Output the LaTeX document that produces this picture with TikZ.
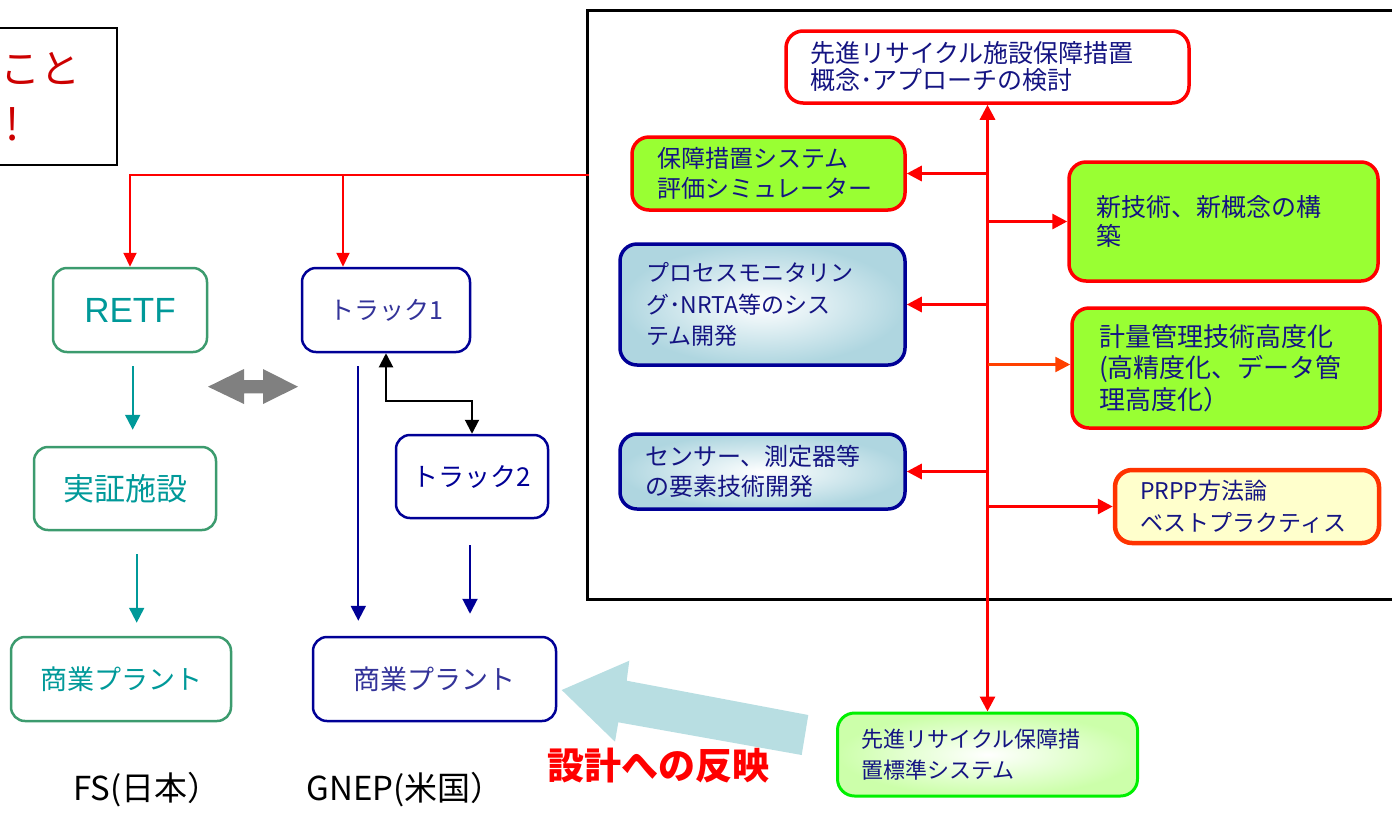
\documentclass[tikz,border=0pt]{standalone}
\usepackage{fontspec}
\setmainfont{Noto Sans CJK JP}
\newfontfamily\arialf{Liberation Sans}
\usetikzlibrary{arrows.meta}
\definecolor{boxgreen}{RGB}{60,155,110}
\definecolor{tealtxt}{RGB}{0,153,153}
\definecolor{navyb}{RGB}{0,0,150}
\definecolor{trktxt}{RGB}{51,51,153}
\definecolor{pnavy}{RGB}{20,20,130}
\definecolor{lime}{RGB}{153,255,51}
\definecolor{pred}{RGB}{255,0,0}
\definecolor{porange}{RGB}{255,64,0}
\definecolor{prppb}{RGB}{255,51,0}
\definecolor{prppf}{RGB}{255,255,204}
\definecolor{bgrad}{RGB}{175,214,224}
\definecolor{ggrad}{RGB}{204,255,170}
\definecolor{lgreen}{RGB}{0,240,0}
\definecolor{lblue}{RGB}{184,222,226}
\definecolor{dred}{RGB}{204,0,0}
\definecolor{gry}{RGB}{128,128,128}
\begin{document}
\begin{tikzpicture}[x=1pt,y=-1pt,
  lbox/.style={draw, rounded corners=14pt, line width=2.5pt, inner sep=0pt, align=center},
  gbox/.style={lbox, draw=boxgreen, text=tealtxt},
  nbox/.style={lbox, draw=navyb, text=trktxt},
  pbox/.style={draw, rounded corners=17pt, line width=3.5pt, inner ysep=0pt, align=left, text=pnavy},
  redbox/.style={pbox, draw=pred, fill=lime},
  bluebox/.style={pbox, draw=navyb, inner color=white, outer color=bgrad},
  rthin/.style={draw=pred, line width=2pt, -{Triangle[length=14pt,width=13pt]}},
  tealarr/.style={draw=tealtxt, line width=2pt, -{Triangle[length=15pt,width=15pt]}},
  navyarr/.style={draw=navyb, line width=2pt, -{Triangle[length=15pt,width=15pt]}},
  blkarr/.style={draw=black, line width=2pt, {Triangle[length=14pt,width=14pt]}-{Triangle[length=14pt,width=14pt]}},
  pthick/.style={draw=pred, line width=3pt, -{Triangle[length=15pt,width=15pt]}},
  oarr/.style={draw=porange, line width=2.5pt, -{Triangle[length=15pt,width=15pt]}}
]
\useasboundingbox (0,0) rectangle (1392,815);

% top-left note box (cut off)
\node[draw, line width=2pt, minimum width=132, minimum height=137, anchor=north east, inner sep=0pt] (note) at (118,27) {};
\node[anchor=west, inner sep=0pt, text=dred, font=\fontsize{40}{40}\selectfont] (koto) at (0,68) {こと};
\node[inner sep=0pt, text=dred, font=\fontsize{44}{44}\selectfont] (excl) at (13,124) {!};

% big panel
\node[draw, line width=2.5pt, anchor=north west, minimum width=830, minimum height=589, inner sep=0pt] (panel) at (586,9) {};

% left column boxes
\node[gbox, minimum width=154, minimum height=84, font=\arialf\fontsize{35}{35}\selectfont] (retf) at (130,310) {RETF};
\node[gbox, minimum width=182, minimum height=83, font=\fontsize{31}{31}\selectfont] (jissho) at (125,488.5) {実証施設};
\node[gbox, minimum width=220, minimum height=84, font=\fontsize{27}{27}\selectfont] (plantL) at (121,679) {商業プラント};
\node[nbox, minimum width=168, minimum height=84, font=\fontsize{25}{25}\selectfont] (trk1) at (386,310) {トラック1};
\node[nbox, text=navyb, minimum width=152, minimum height=83, font=\fontsize{26}{26}\selectfont] (trk2) at (472,476.5) {トラック2};
\node[nbox, minimum width=243, minimum height=84, font=\fontsize{27}{27}\selectfont] (plantR) at (434.5,679) {商業プラント};

% panel boxes
\node[pbox, draw=pred, fill=white, minimum height=72, text width=355, inner xsep=24pt, font=\fontsize{25}{27}\selectfont] (tb) at (987.5,67) {先進リサイクル施設保障措置\\概念･アプローチの検討};
\node[redbox, minimum height=73, text width=223, inner xsep=25pt, font=\fontsize{24}{30}\selectfont] (sim) at (768.5,173.5) {保障措置システム\\評価シミュレーター};
\node[bluebox, minimum height=121, text width=233, inner xsep=26pt, font=\fontsize{23}{31.5}\selectfont] (proc) at (762.5,304.5) {プロセスモニタリン\\グ･NRTA等のシス\\テム開発};
\node[bluebox, minimum height=75, text width=235, inner xsep=25pt, font=\fontsize{24}{29.5}\selectfont] (sensor) at (762.5,471.5) {センサー、測定器等\\の要素技術開発};
\node[redbox, minimum height=119, text width=255, inner xsep=27pt, font=\fontsize{25}{29}\selectfont] (newtech) at (1223.5,221.5) {新技術、新概念の構\\築};
\node[redbox, minimum height=120, text width=254, inner xsep=27pt, font=\fontsize{26}{31.7}\selectfont] (keiryo) at (1226,368) {計量管理技術高度化\\(高精度化、データ管\\理高度化）};
\node[pbox, draw=prppb, fill=prppf, line width=4.5pt, minimum height=73, text width=214, inner xsep=25pt, font=\fontsize{23}{31.6}\selectfont] (prpp) at (1247,506.5) {PRPP方法論\\ベストプラクティス};
\node[pbox, draw=lgreen, line width=3pt, inner color=white, outer color=ggrad, minimum height=83, text width=252, inner xsep=24pt, font=\fontsize{22}{31}\selectfont] (bot) at (987.5,754.5) {先進リサイクル保障措\\置標準システム};

% left connectors
\coordinate (jr) at (589,175);
\coordinate (j1) at (343,175);
\draw[rthin] (jr) -| (retf.north);
\draw[rthin] (j1) -- (j1 |- trk1.north);
\draw[tealarr, shorten <=13pt, shorten >=16pt] ([xshift=2.7pt]retf.south) -- ([xshift=2.7pt]retf.south |- jissho.north);
\draw[tealarr, shorten <=23pt, shorten >=13pt] ([xshift=11.7pt]jissho.south) -- ([xshift=11.7pt]jissho.south |- plantL.north);
\draw[navyarr, shorten <=13pt, shorten >=15pt] ([xshift=-27.7pt]trk1.south) -- ([xshift=-27.7pt]trk1.south |- plantR.north);
\draw[navyarr, shorten <=26pt, shorten >=22pt] ([xshift=-2pt]trk2.south) -- ([xshift=-2pt]trk2.south |- plantR.north);
\draw[blkarr] (trk1.south) -- ++(0,48) -| (trk2.north);

% grey double arrow
\fill[gry] (208,386.7) -- (244,369) -- (244,380) -- (263,380) -- (263,369) -- (298,386.7) -- (263,404) -- (263,393.3) -- (244,393.3) -- (244,404) -- cycle;

% panel connectors
\draw[pthick, {Triangle[length=15pt,width=15pt]}-{Triangle[length=15pt,width=15pt]}] (tb.south) -- (bot.north);
\draw[pthick] (tb.south |- sim.east) -- (sim.east);
\draw[pthick] (tb.south |- proc.east) -- (proc.east);
\draw[pthick] (tb.south |- sensor.east) -- (sensor.east);
\draw[pthick] (tb.south |- newtech.west) -- (newtech.west);
\coordinate (ko) at ([yshift=3.5pt]keiryo.west);
\draw[oarr] (tb.south |- ko) -- (ko);
\draw[pthick] (tb.south |- prpp.west) -- (prpp.west);

% big light-blue arrow
\fill[lblue] (561.7,690) -- (629.3,660.7) -- (626.7,680.7) -- (808.3,715) -- (801.7,755) -- (618.3,722.3) -- (615,741.7) -- cycle;

% labels
\node[text=pred, font=\bfseries\fontsize{37}{37}\selectfont] (refl) at (658,766) {設計への反映};
\node[font=\fontsize{33}{33}\selectfont] (fs) at (147,790) {FS(日本）};
\node[font=\fontsize{33}{33}\selectfont] (gnep) at (405,790) {GNEP(米国）};
\end{tikzpicture}
\end{document}
